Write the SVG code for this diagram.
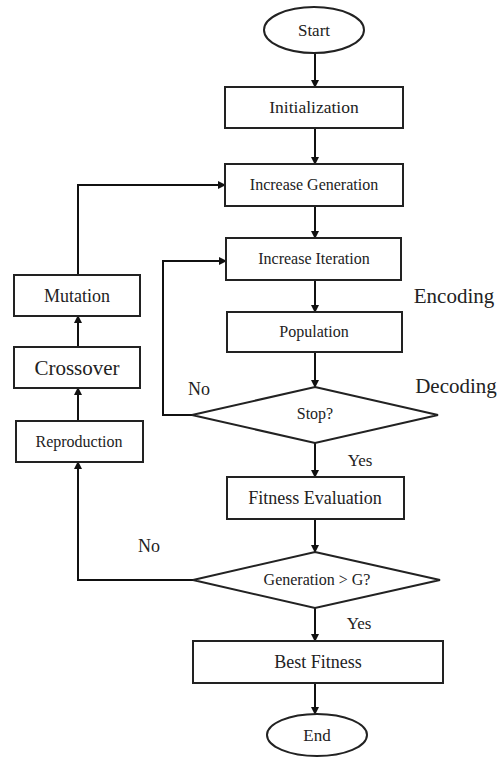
<svg xmlns="http://www.w3.org/2000/svg" width="500" height="759" viewBox="0 0 500 759">
<defs>
<marker id="ah" markerWidth="8" markerHeight="8" refX="7" refY="4" orient="auto" markerUnits="userSpaceOnUse">
<path d="M0,0 L8,4 L0,8 Z" fill="#111"/>
</marker>
<style>
.s{fill:#fff;stroke:#222;stroke-width:2}
.t{font-family:"Liberation Serif","Times New Roman",serif;fill:#222;text-anchor:middle}
.c{fill:none;stroke:#111;stroke-width:2;marker-end:url(#ah)}
</style>
</defs>
<rect width="500" height="759" fill="#fff"/>
<g id="connectors">
<path class="c" d="M315,53 V87"/>
<path class="c" d="M315,128 V164"/>
<path class="c" d="M315,206 V238"/>
<path class="c" d="M315,280 V312"/>
<path class="c" d="M315,352 V387"/>
<path class="c" d="M192,415 H163 V261 H226"/>
<path class="c" d="M315,443 V477"/>
<path class="c" d="M315,519 V552"/>
<path class="c" d="M193,580 H78 V462"/>
<path class="c" d="M78,421 V388"/>
<path class="c" d="M78,347 V316"/>
<path class="c" d="M78,275 V185 H225"/>
<path class="c" d="M315,608 V641"/>
<path class="c" d="M315,683 V714"/>
</g>
<g id="start"><ellipse class="s" cx="314" cy="30" rx="50" ry="23"/><text class="t" x="314" y="36" font-size="17">Start</text></g>
<g id="init"><rect class="s" x="225" y="87" width="178" height="41"/><text class="t" x="314" y="113" font-size="17.5">Initialization</text></g>
<g id="incgen"><rect class="s" x="225" y="164" width="178" height="42"/><text class="t" x="314" y="190" font-size="16">Increase Generation</text></g>
<g id="inciter"><rect class="s" x="226" y="238" width="175" height="42"/><text class="t" x="314" y="264" font-size="16">Increase Iteration</text></g>
<g id="pop"><rect class="s" x="227" y="312" width="175" height="40"/><text class="t" x="314" y="337" font-size="16">Population</text></g>
<g id="stop"><polygon class="s" points="315,387 438,415 315,443 192,415"/><text class="t" x="315" y="419" font-size="16">Stop?</text></g>
<g id="fiteval"><rect class="s" x="227" y="477" width="177" height="42"/><text class="t" x="315" y="504" font-size="18">Fitness Evaluation</text></g>
<g id="gen"><polygon class="s" points="315,552 440,580 315,608 193,580"/><text class="t" x="317" y="585" font-size="16">Generation &gt; G?</text></g>
<g id="best"><rect class="s" x="193" y="641" width="250" height="42"/><text class="t" x="318" y="668" font-size="18">Best Fitness</text></g>
<g id="end"><ellipse class="s" cx="317" cy="735" rx="50" ry="21"/><text class="t" x="317" y="741" font-size="17">End</text></g>
<g id="mutation"><rect class="s" x="14" y="275" width="126" height="41"/><text class="t" x="77" y="302" font-size="18">Mutation</text></g>
<g id="crossover"><rect class="s" x="14" y="347" width="126" height="41"/><text class="t" x="77" y="375" font-size="21">Crossover</text></g>
<g id="repro"><rect class="s" x="16" y="421" width="127" height="41"/><text class="t" x="79" y="447" font-size="16">Reproduction</text></g>
<g id="labels">
<text class="t" x="454" y="303" font-size="21">Encoding</text>
<text class="t" x="456" y="393" font-size="21">Decoding</text>
<text class="t" x="199" y="395" font-size="18">No</text>
<text class="t" x="149" y="552" font-size="18">No</text>
<text class="t" x="360" y="466" font-size="17">Yes</text>
<text class="t" x="359" y="629" font-size="17">Yes</text>
</g>
</svg>
